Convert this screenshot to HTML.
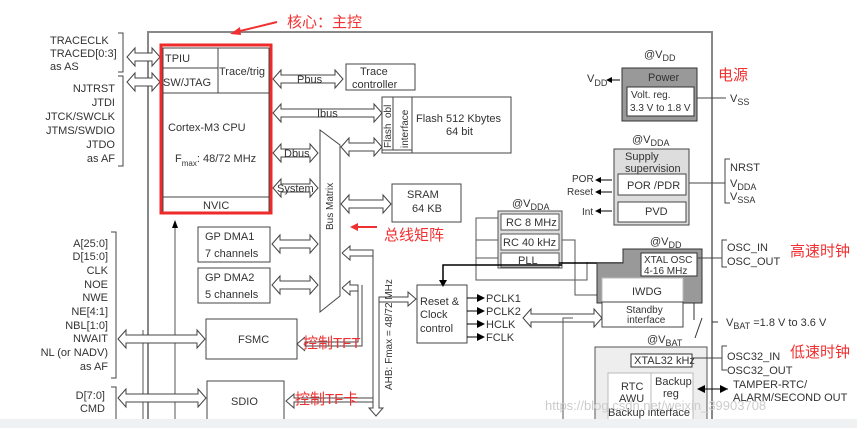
<!DOCTYPE html>
<html><head><meta charset="utf-8"><style>
html,body{margin:0;padding:0;background:#fff;}
svg{display:block;font-family:"Liberation Sans","Noto Sans CJK SC",sans-serif;}
.t{font-size:11px;fill:#333;}
.r{font-size:15px;fill:#f03030;font-family:"Liberation Sans","Noto Sans CJK SC",sans-serif;}
</style></head><body>
<svg id="s" width="857" height="428" viewBox="0 0 857 428" xmlns="http://www.w3.org/2000/svg">
<rect x="0" y="0" width="857" height="428" fill="#fff"/>
<!-- main border -->
<path d="M148 428 V32 H712 V428" fill="none" stroke="#888" stroke-width="2"/>
<line x1="175" y1="222" x2="175" y2="420" stroke="#555" stroke-width="1"/>
<path d="M172 228 L175 220 L178 228 Z" fill="#000"/>
<line x1="143" y1="330" x2="143" y2="420" stroke="#555"/>
<g id="arrows" fill="#fff" stroke="#444"></g>
<!-- CPU -->
<rect x="163" y="48" width="106" height="165" fill="#fff" stroke="#444"/>
<line x1="163" y1="68" x2="218" y2="68" stroke="#444"/>
<line x1="218" y1="48" x2="218" y2="93" stroke="#444"/>
<line x1="163" y1="93" x2="269" y2="93" stroke="#444"/>
<line x1="163" y1="197" x2="269" y2="197" stroke="#444"/>
<rect x="161" y="45" width="110" height="168" fill="none" stroke="#ee2a2a" stroke-width="3"/>
<text class="t" x="165" y="62">TPIU</text>
<text class="t" x="163" y="86">SW/JTAG</text>
<text class="t" x="219" y="75" font-size="10">Trace/trig</text>
<text class="t" x="168" y="131">Cortex-M3 CPU</text>
<text class="t" x="175" y="162">F<tspan font-size="8" dy="4">max</tspan><tspan dy="-4">: 48/72 MHz</tspan></text>
<text class="t" x="203" y="209">NVIC</text>
<!-- left labels -->
<g class="t">
<text x="50" y="44">TRACECLK</text><text x="50" y="57">TRACED[0:3]</text><text x="50" y="70">as AS</text>
<g text-anchor="end"><text x="115" y="92">NJTRST</text><text x="115" y="106">JTDI</text><text x="115" y="120">JTCK/SWCLK</text><text x="115" y="134">JTMS/SWDIO</text><text x="115" y="148">JTDO</text><text x="115" y="162">as AF</text>
<text x="108" y="247">A[25:0]</text><text x="108" y="260">D[15:0]</text><text x="108" y="274">CLK</text><text x="108" y="288">NOE</text><text x="108" y="301">NWE</text><text x="108" y="315">NE[4:1]</text><text x="108" y="329">NBL[1:0]</text><text x="108" y="342">NWAIT</text><text x="108" y="356">NL (or NADV)</text><text x="108" y="370">as AF</text>
<text x="105" y="399">D[7:0]</text><text x="105" y="412">CMD</text></g>
</g>
<path d="M118 33 H123 V72 H118 M118 76 H123 V166 H118 M111 232 H116 V378 H111 M111 387 H116 V420" fill="none" stroke="#444"/>
<!-- boxes -->
<g fill="#fff" stroke="#444">
<rect x="346" y="64" width="69" height="26"/>
<rect x="382" y="97" width="129" height="56"/>
<rect x="392" y="184" width="69" height="38"/>
<rect x="198" y="227" width="72" height="35"/>
<rect x="198" y="268" width="72" height="35"/>
<rect x="206" y="319" width="91" height="40"/>
<rect x="207" y="381" width="77" height="40"/>
<rect x="417" y="285" width="50" height="58"/>
</g>
<line x1="393" y1="97" x2="393" y2="150" stroke="#444"/>
<line x1="412" y1="97" x2="412" y2="153" stroke="#444"/>
<line x1="382" y1="150" x2="412" y2="150" stroke="#444"/>
<!-- bus matrix -->
<path d="M320 130 L340 145 L340 296 L320 312 Z" fill="#fff" stroke="#444"/>
<g class="t">
<text x="360" y="75">Trace</text><text x="352" y="88">controller</text>
<text x="416" y="122">Flash 512 Kbytes</text><text x="446" y="135">64 bit</text>
<text x="407" y="198">SRAM</text><text x="412" y="212">64 KB</text>
<text x="205" y="240">GP DMA1</text><text x="205" y="257">7 channels</text>
<text x="205" y="281">GP DMA2</text><text x="205" y="298">5 channels</text>
<text x="238" y="343">FSMC</text><text x="231" y="405">SDIO</text>
<text x="420" y="305">Reset &amp;</text><text x="420" y="318">Clock</text><text x="420" y="332">control</text>
<text x="297" y="83">Pbus</text><text x="317" y="117">Ibus</text>
<text x="284" y="157">Dbus</text><text x="277" y="192">System</text>
<text x="391" y="148" transform="rotate(-90 391 148)" font-size="10">Flash</text>
<text x="391" y="118" transform="rotate(-90 391 118)" font-size="10">obl</text>
<text x="408" y="148" transform="rotate(-90 408 148)" font-size="10">interface</text>
<text x="333" y="230" transform="rotate(-90 333 230)" font-size="10">Bus Matrix</text>
<text x="392" y="390" transform="rotate(-90 392 390)" font-size="10">AHB: Fmax = 48/72 MHz</text>
<text x="486" y="302">PCLK1</text><text x="486" y="315">PCLK2</text><text x="486" y="328">HCLK</text><text x="486" y="341">FCLK</text>
</g>
<!-- AHB / FSMC lines -->
<path d="M342 253 L350 246 V250 H373 V408 H369 L376 416 L383 408 H379 V297 H408 V292 L416 299 L408 306 V302 H379" fill="none" stroke="#444"/>
<path d="M342 253 L350 260 V256 H373" fill="none" stroke="#444"/>
<path d="M342 288 L350 281 V285 H358 V342 H305 V346 H362 V285 M342 288 L350 295 V291 H358" fill="none" stroke="#444"/>
<path d="M297 344 L305 337 M297 344 L305 351" stroke="#444"/>
<path d="M286 401 L294 394 V398 H373 V402 H294 V408 Z" fill="#fff" stroke="#444"/>
<!-- PCLK arrows -->
<g stroke="#000"><line x1="467" y1="298" x2="478" y2="298"/><line x1="467" y1="311" x2="478" y2="311"/><line x1="467" y1="324" x2="478" y2="324"/><line x1="467" y1="337" x2="478" y2="337"/></g>
<g fill="#000"><path d="M477 294 L485 298 L477 302Z"/><path d="M477 307 L485 311 L477 315Z"/><path d="M477 320 L485 324 L477 328Z"/><path d="M477 333 L485 337 L477 341Z"/></g>
<!-- RC group -->
<rect x="498" y="211" width="64" height="57" fill="#ddd" stroke="#555"/>
<g fill="#fff" stroke="#555"><rect x="501" y="214" width="58" height="16"/><rect x="501" y="234" width="58" height="16"/><rect x="501" y="253" width="58" height="14"/></g>
<g class="t" font-size="10"><text x="506" y="226">RC 8 MHz</text><text x="503" y="246">RC 40 kHz</text><text x="518" y="264">PLL</text></g>
<text class="t" x="512" y="207">@V<tspan font-size="9" dy="3">DDA</tspan></text>
<path d="M498 218 H476 V280 H587 V262 M476 240 H498 M476 258 H498" fill="none" stroke="#555"/>
<path d="M562 240 H575 V295 H600" fill="none" stroke="#555"/>
<path d="M559 263 H640 M562 265 H443 V282" fill="none" stroke="#000" stroke-width="1.5"/>
<path d="M439 280 L443 287 L447 280Z" fill="#000"/>
<!-- power -->
<rect x="622" y="68" width="75" height="53" fill="#999" stroke="#333"/>
<rect x="627" y="87" width="67" height="29" fill="#fff" stroke="#333"/>
<g class="t"><text x="648" y="81">Power</text><text x="631" y="98" font-size="10">Volt. reg.</text><text x="630" y="111" font-size="10">3.3 V to 1.8 V</text>
<text x="644" y="58">@V<tspan font-size="9" dy="3">DD</tspan></text>
<text x="587" y="82">V<tspan font-size="9" dy="4">DD</tspan></text>
<text x="730" y="102">V<tspan font-size="9" dy="3">SS</tspan></text></g>
<path d="M610 80 H620" stroke="#000"/><path d="M612 77 L606 80 L612 83Z" fill="#000"/>
<line x1="697" y1="98" x2="726" y2="98" stroke="#444"/>
<!-- supply -->
<rect x="614" y="149" width="75" height="76" fill="#ddd" stroke="#444"/>
<rect x="618" y="174" width="68" height="21" fill="#fff" stroke="#444"/>
<rect x="618" y="202" width="68" height="20" fill="#fff" stroke="#444"/>
<g class="t"><text x="625" y="160">Supply</text><text x="625" y="172">supervision</text><text x="627" y="189">POR /PDR</text><text x="645" y="215">PVD</text>
<text x="632" y="143">@V<tspan font-size="9" dy="3">DDA</tspan></text>
<text x="572" y="182" font-size="10">POR</text><text x="567" y="195" font-size="10">Reset</text><text x="582" y="215" font-size="10">Int</text>
<text x="730" y="171">NRST</text><text x="730" y="187">V<tspan font-size="9" dy="3">DDA</tspan></text><text x="730" y="200">V<tspan font-size="9" dy="3">SSA</tspan></text></g>
<g stroke="#000"><line x1="600" y1="180" x2="612" y2="180"/><line x1="600" y1="192" x2="612" y2="192"/><line x1="600" y1="211" x2="612" y2="211"/></g>
<g fill="#000"><path d="M601 177 L595 180 L601 183Z"/><path d="M601 189 L595 192 L601 195Z"/><path d="M601 208 L595 211 L601 214Z"/></g>
<path d="M689 183 H725 M730 159 H725 V203 H730" fill="none" stroke="#444"/>
<!-- xtal osc -->
<path d="M623 249 H702 V303 H597 V263 H623 Z" fill="#999" stroke="#333"/>
<rect x="641" y="253" width="56" height="23" fill="#fff" stroke="#333"/>
<rect x="602" y="278" width="81" height="24" fill="#fff" stroke="#bbb"/>
<rect x="602" y="302" width="81" height="25" fill="#fff" stroke="#444"/>
<g class="t"><text x="644" y="263" font-size="10">XTAL OSC</text><text x="644" y="274" font-size="10">4-16 MHz</text>
<text x="632" y="295">IWDG</text><text x="626" y="313" font-size="10">Standby</text><text x="627" y="323" font-size="10">interface</text>
<text x="650" y="245">@V<tspan font-size="9" dy="3">DD</tspan></text>
<text x="727" y="251">OSC_IN</text><text x="727" y="265">OSC_OUT</text>
<text x="726" y="326">V<tspan font-size="9" dy="3">BAT</tspan><tspan dy="-3"> =1.8 V to 3.6 V</tspan></text>
<text x="647" y="343">@V<tspan font-size="9" dy="3">BAT</tspan></text></g>
<path d="M697 258 H722 M727 240 H722 V267 H727" fill="none" stroke="#444"/>
<path d="M718 322 H712 M694 303 V320 M702 318 L695 338" stroke="#333" fill="none"/>
<!-- backup domain -->
<rect x="595" y="347" width="112" height="81" fill="#eee" stroke="#555"/>
<rect x="631" y="354" width="61" height="13" fill="#fff" stroke="#333"/>
<rect x="608" y="373" width="85" height="55" fill="#fff" stroke="#bbb"/>
<line x1="651" y1="373" x2="651" y2="410" stroke="#bbb"/>
<g class="t" font-size="10"><text x="634" y="364">XTAL32 kHz</text><text x="621" y="390">RTC</text><text x="619" y="402">AWU</text><text x="655" y="385">Backup</text><text x="663" y="397">reg</text><text x="608" y="416">Backup interface</text>
<text x="727" y="360" font-size="11">OSC32_IN</text><text x="727" y="374" font-size="11">OSC32_OUT</text>
<text x="733" y="388" font-size="11">TAMPER-RTC/</text><text x="733" y="401" font-size="11">ALARM/SECOND OUT</text></g>
<path d="M692 358 H722 M727 346 H722 V370 H727" fill="none" stroke="#444"/>
<path d="M698 389 H728" stroke="#000"/><path d="M705 385 L697 389 L705 393Z M720 385 L728 389 L720 393Z" fill="#000"/>
<path d="M573 318 H563 V420" fill="none" stroke="#555"/>
<!-- red annotations -->
<text class="r" x="287" y="27" font-size="16">核心：主控</text>
<path d="M277 22 L236 32" stroke="#f03030" stroke-width="2"/><path d="M230 34 L240 27 L241 35Z" fill="#f03030"/>
<text class="r" x="718" y="80">电源</text>
<text class="r" x="384" y="240">总线矩阵</text>
<path d="M377 227 H356" stroke="#f03030" stroke-width="2"/><path d="M350 227 L358 223 L358 231Z" fill="#f03030"/>
<text class="r" x="303" y="348">控制TFT</text>
<text class="r" x="295" y="404">控制TF卡</text>
<text class="r" x="790" y="256">高速时钟</text>
<text class="r" x="790" y="357">低速时钟</text>
<text x="545" y="410" font-size="13" fill="#ccc">https://blog.csdn.net/weixin_39903708</text>
<rect x="0" y="419" width="857" height="9" fill="#f0f1f3"/>
</svg>
<script>
var g=document.getElementById('arrows');
function da(x1,x2,y){var p='M'+x1+' '+y+' L'+(x1+8)+' '+(y-9)+' L'+(x1+8)+' '+(y-4)+' L'+(x2-8)+' '+(y-4)+' L'+(x2-8)+' '+(y-9)+' L'+x2+' '+y+' L'+(x2-8)+' '+(y+9)+' L'+(x2-8)+' '+(y+4)+' L'+(x1+8)+' '+(y+4)+' L'+(x1+8)+' '+(y+9)+' Z';
var e=document.createElementNS('http://www.w3.org/2000/svg','path');e.setAttribute('d',p);g.appendChild(e);}
da(127,160,57);da(127,160,82);da(273,343,79);da(273,382,113);da(273,318,153);da(273,318,188);
da(341,382,147);da(341,391,204);da(272,318,244);da(272,318,285);da(118,205,339);da(118,206,398);da(523,602,318);
</script>
</body></html>
